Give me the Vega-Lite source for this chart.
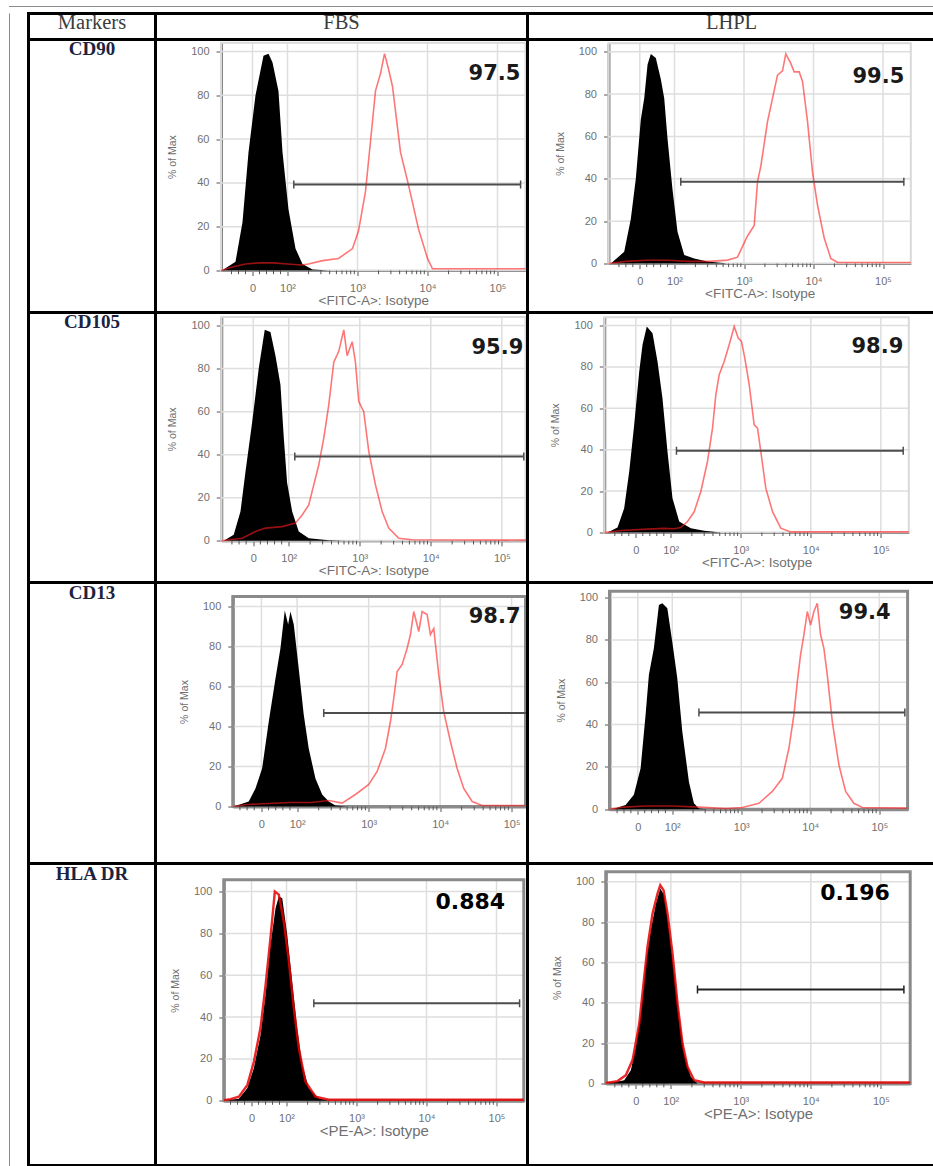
{
"$schema": "https://vega.github.io/schema/vega-lite/v6.json",
"background": "white",
"padding": {"left": 9, "top": 6, "right": 0, "bottom": 0},
"spacing": 3.5,
"config": {
 "view": {"stroke": null},
 "font": "Liberation Sans",
 "axis": {"grid": false, "labelFont": "Liberation Sans", "titleFont": "Liberation Sans", "labelColor": "#707070", "titleColor": "#707070", "titleFontWeight": "normal", "labelFontSize": 11, "tickColor": "#555555", "tickWidth": 1, "labelOverlap": false, "labelFlush": false},
 "axisX": {"domainWidth": 2, "labelPadding": 7, "titlePadding": 0, "titleFontSize": 13.5, "tickSize": 5},
 "axisY": {"domainColor": "#858585", "domainWidth": 3, "labelPadding": 7, "titlePadding": 13, "titleFontSize": 10.5}
},
"datasets": {
 "gridx": [{"log_fl":1.5},{"log_fl":2},{"log_fl":3},{"log_fl":4},{"log_fl":5}],
 "gridy": [{"pct":20},{"pct":40},{"pct":60},{"pct":80},{"pct":100}],
 "minor_ticks": [{"log_fl":1.2},{"log_fl":1.3},{"log_fl":1.4},{"log_fl":1.6},{"log_fl":1.7},{"log_fl":1.8},{"log_fl":1.9},{"log_fl":2.301},{"log_fl":2.477},{"log_fl":2.602},{"log_fl":2.699},{"log_fl":2.778},{"log_fl":2.845},{"log_fl":2.903},{"log_fl":2.954},{"log_fl":3.301},{"log_fl":3.477},{"log_fl":3.602},{"log_fl":3.699},{"log_fl":3.778},{"log_fl":3.845},{"log_fl":3.903},{"log_fl":3.954},{"log_fl":4.301},{"log_fl":4.477},{"log_fl":4.602},{"log_fl":4.699},{"log_fl":4.778},{"log_fl":4.845},{"log_fl":4.903},{"log_fl":4.954}],
 "gates": [
  {"panel":"CD90 FBS","from":2.09,"to":5.33,"level":39.3,"positive":"97.5"},
  {"panel":"CD90 LHPL","from":2.09,"to":5.3,"level":38.6,"positive":"99.5"},
  {"panel":"CD105 FBS","from":2.085,"to":5.31,"level":39.2,"positive":"95.9"},
  {"panel":"CD105 LHPL","from":2.081,"to":5.32,"level":39.5,"positive":"98.9"},
  {"panel":"CD13 FBS","from":2.372,"to":5.35,"level":46.7,"positive":"98.7"},
  {"panel":"CD13 LHPL","from":2.386,"to":5.37,"level":45.7,"positive":"99.4"},
  {"panel":"HLA DR FBS","from":2.39,"to":5.33,"level":46.6,"positive":"0.884"},
  {"panel":"HLA DR LHPL","from":2.381,"to":5.33,"level":46.6,"positive":"0.196"}
 ],
 "cd90_fbs_isotype": [{"log_fl":1.05,"pct":0},{"log_fl":1.086,"pct":0.5},{"log_fl":1.257,"pct":4},{"log_fl":1.357,"pct":22},{"log_fl":1.443,"pct":54},{"log_fl":1.543,"pct":80},{"log_fl":1.657,"pct":98},{"log_fl":1.729,"pct":99},{"log_fl":1.786,"pct":95},{"log_fl":1.871,"pct":82},{"log_fl":1.929,"pct":54},{"log_fl":2.014,"pct":28},{"log_fl":2.114,"pct":10},{"log_fl":2.214,"pct":3},{"log_fl":2.357,"pct":0.5},{"log_fl":2.6,"pct":0}],
 "cd90_fbs_marker": [{"log_fl":1.05,"pct":0},{"log_fl":1.2,"pct":1.5},{"log_fl":1.4,"pct":3},{"log_fl":1.6,"pct":3.5},{"log_fl":1.8,"pct":3.5},{"log_fl":2.0,"pct":3},{"log_fl":2.2,"pct":2.5},{"log_fl":2.3,"pct":3},{"log_fl":2.5,"pct":4.5},{"log_fl":2.729,"pct":5.5},{"log_fl":2.929,"pct":10},{"log_fl":3.014,"pct":18},{"log_fl":3.114,"pct":36},{"log_fl":3.186,"pct":59},{"log_fl":3.257,"pct":82},{"log_fl":3.329,"pct":90},{"log_fl":3.386,"pct":99},{"log_fl":3.443,"pct":92},{"log_fl":3.5,"pct":84},{"log_fl":3.614,"pct":54},{"log_fl":3.729,"pct":39},{"log_fl":3.871,"pct":19},{"log_fl":4.0,"pct":5.5},{"log_fl":4.071,"pct":0.8},{"log_fl":5.4,"pct":0.8}],
 "cd90_lhpl_isotype": [{"log_fl":1.05,"pct":0},{"log_fl":1.083,"pct":0},{"log_fl":1.276,"pct":5.5},{"log_fl":1.371,"pct":21},{"log_fl":1.443,"pct":40},{"log_fl":1.515,"pct":68},{"log_fl":1.564,"pct":78},{"log_fl":1.612,"pct":94},{"log_fl":1.659,"pct":99},{"log_fl":1.731,"pct":97},{"log_fl":1.803,"pct":87},{"log_fl":1.852,"pct":78},{"log_fl":1.899,"pct":59},{"log_fl":1.971,"pct":35},{"log_fl":2.043,"pct":15},{"log_fl":2.14,"pct":4},{"log_fl":2.283,"pct":2.4},{"log_fl":2.475,"pct":1},{"log_fl":2.763,"pct":0}],
 "cd90_lhpl_marker": [{"log_fl":1.05,"pct":0},{"log_fl":1.3,"pct":1},{"log_fl":1.6,"pct":1.5},{"log_fl":1.9,"pct":1.5},{"log_fl":2.2,"pct":1},{"log_fl":2.5,"pct":1},{"log_fl":2.763,"pct":1.6},{"log_fl":2.906,"pct":3},{"log_fl":3.05,"pct":13},{"log_fl":3.147,"pct":18},{"log_fl":3.194,"pct":38.6},{"log_fl":3.242,"pct":46},{"log_fl":3.338,"pct":67},{"log_fl":3.41,"pct":78},{"log_fl":3.482,"pct":89},{"log_fl":3.554,"pct":91},{"log_fl":3.601,"pct":99},{"log_fl":3.673,"pct":94.5},{"log_fl":3.722,"pct":90.5},{"log_fl":3.794,"pct":90.5},{"log_fl":3.842,"pct":86},{"log_fl":3.914,"pct":67},{"log_fl":3.986,"pct":43},{"log_fl":4.058,"pct":27.5},{"log_fl":4.154,"pct":12},{"log_fl":4.249,"pct":2.4},{"log_fl":4.345,"pct":0.5},{"log_fl":5.4,"pct":0.5}],
 "cd105_fbs_isotype": [{"log_fl":1.05,"pct":0},{"log_fl":1.085,"pct":0},{"log_fl":1.225,"pct":2.8},{"log_fl":1.32,"pct":13.6},{"log_fl":1.39,"pct":32},{"log_fl":1.484,"pct":55},{"log_fl":1.577,"pct":80},{"log_fl":1.662,"pct":98},{"log_fl":1.742,"pct":97},{"log_fl":1.813,"pct":86},{"log_fl":1.883,"pct":72.5},{"log_fl":1.93,"pct":48},{"log_fl":1.977,"pct":27},{"log_fl":2.048,"pct":13.6},{"log_fl":2.141,"pct":4.3},{"log_fl":2.282,"pct":1.2},{"log_fl":2.563,"pct":0.3},{"log_fl":2.8,"pct":0}],
 "cd105_fbs_marker": [{"log_fl":1.05,"pct":0},{"log_fl":1.344,"pct":1.2},{"log_fl":1.531,"pct":4.3},{"log_fl":1.672,"pct":5.9},{"log_fl":1.907,"pct":6.6},{"log_fl":2.094,"pct":8.2},{"log_fl":2.189,"pct":12},{"log_fl":2.282,"pct":16.7},{"log_fl":2.352,"pct":26},{"log_fl":2.423,"pct":35.3},{"log_fl":2.493,"pct":47.7},{"log_fl":2.563,"pct":63},{"log_fl":2.634,"pct":83},{"log_fl":2.704,"pct":88},{"log_fl":2.775,"pct":98},{"log_fl":2.822,"pct":86},{"log_fl":2.893,"pct":92.5},{"log_fl":2.939,"pct":83},{"log_fl":2.986,"pct":64.7},{"log_fl":3.056,"pct":60},{"log_fl":3.127,"pct":41.5},{"log_fl":3.221,"pct":26},{"log_fl":3.315,"pct":13.6},{"log_fl":3.408,"pct":5.9},{"log_fl":3.549,"pct":1.2},{"log_fl":3.738,"pct":0.5},{"log_fl":5.4,"pct":0.3}],
 "cd105_lhpl_isotype": [{"log_fl":1.05,"pct":0},{"log_fl":1.096,"pct":0},{"log_fl":1.239,"pct":2.4},{"log_fl":1.334,"pct":11.7},{"log_fl":1.406,"pct":29.5},{"log_fl":1.477,"pct":52},{"log_fl":1.549,"pct":77.8},{"log_fl":1.596,"pct":90.7},{"log_fl":1.657,"pct":99.5},{"log_fl":1.739,"pct":96.3},{"log_fl":1.81,"pct":82.6},{"log_fl":1.881,"pct":64.9},{"log_fl":1.953,"pct":39},{"log_fl":2.024,"pct":16.6},{"log_fl":2.12,"pct":5.3},{"log_fl":2.286,"pct":2.1},{"log_fl":2.477,"pct":0.8},{"log_fl":2.714,"pct":0}],
 "cd105_lhpl_marker": [{"log_fl":1.05,"pct":0},{"log_fl":1.3,"pct":1},{"log_fl":1.6,"pct":1.5},{"log_fl":1.9,"pct":2},{"log_fl":2.049,"pct":1.8},{"log_fl":2.143,"pct":2.4},{"log_fl":2.239,"pct":5.3},{"log_fl":2.334,"pct":10},{"log_fl":2.429,"pct":19.8},{"log_fl":2.524,"pct":34.3},{"log_fl":2.596,"pct":50.4},{"log_fl":2.643,"pct":66.5},{"log_fl":2.691,"pct":76.2},{"log_fl":2.763,"pct":82.6},{"log_fl":2.834,"pct":90.7},{"log_fl":2.906,"pct":99.5},{"log_fl":2.963,"pct":93.9},{"log_fl":3.01,"pct":92.3},{"log_fl":3.057,"pct":84.2},{"log_fl":3.12,"pct":71.4},{"log_fl":3.191,"pct":52},{"log_fl":3.239,"pct":50.4},{"log_fl":3.286,"pct":39},{"log_fl":3.357,"pct":21.4},{"log_fl":3.453,"pct":10.1},{"log_fl":3.571,"pct":2.1},{"log_fl":3.714,"pct":0.3},{"log_fl":5.4,"pct":0.3}],
 "cd13_fbs_isotype": [{"log_fl":1.1,"pct":0},{"log_fl":1.113,"pct":0},{"log_fl":1.323,"pct":2.5},{"log_fl":1.417,"pct":9},{"log_fl":1.51,"pct":19},{"log_fl":1.603,"pct":42.5},{"log_fl":1.697,"pct":64},{"log_fl":1.766,"pct":79},{"log_fl":1.827,"pct":98},{"log_fl":1.874,"pct":91},{"log_fl":1.906,"pct":97.5},{"log_fl":1.953,"pct":91},{"log_fl":2.022,"pct":69},{"log_fl":2.092,"pct":46},{"log_fl":2.162,"pct":29},{"log_fl":2.256,"pct":14},{"log_fl":2.35,"pct":6},{"log_fl":2.442,"pct":2.5},{"log_fl":2.536,"pct":0.5},{"log_fl":2.7,"pct":0}],
 "cd13_fbs_marker": [{"log_fl":1.1,"pct":0},{"log_fl":1.3,"pct":1},{"log_fl":1.6,"pct":1.5},{"log_fl":1.9,"pct":2},{"log_fl":2.2,"pct":2},{"log_fl":2.442,"pct":3},{"log_fl":2.629,"pct":1.7},{"log_fl":2.815,"pct":6},{"log_fl":3.002,"pct":11},{"log_fl":3.119,"pct":17.5},{"log_fl":3.235,"pct":29},{"log_fl":3.305,"pct":42.5},{"log_fl":3.351,"pct":54},{"log_fl":3.399,"pct":67.5},{"log_fl":3.469,"pct":71},{"log_fl":3.538,"pct":79},{"log_fl":3.585,"pct":86},{"log_fl":3.631,"pct":97.5},{"log_fl":3.701,"pct":87.5},{"log_fl":3.748,"pct":97.5},{"log_fl":3.818,"pct":96},{"log_fl":3.864,"pct":86},{"log_fl":3.911,"pct":89},{"log_fl":3.98,"pct":66},{"log_fl":4.05,"pct":47.5},{"log_fl":4.144,"pct":32.5},{"log_fl":4.238,"pct":19},{"log_fl":4.33,"pct":9},{"log_fl":4.448,"pct":2.5},{"log_fl":4.587,"pct":0.5},{"log_fl":5.4,"pct":0.5}],
 "cd13_lhpl_isotype": [{"log_fl":1.09,"pct":0},{"log_fl":1.13,"pct":0},{"log_fl":1.323,"pct":2},{"log_fl":1.443,"pct":6.8},{"log_fl":1.541,"pct":19.4},{"log_fl":1.613,"pct":44.6},{"log_fl":1.661,"pct":63.5},{"log_fl":1.733,"pct":76},{"log_fl":1.806,"pct":96.5},{"log_fl":1.855,"pct":97.3},{"log_fl":1.928,"pct":95},{"log_fl":2.0,"pct":79},{"log_fl":2.072,"pct":62},{"log_fl":2.145,"pct":36.7},{"log_fl":2.241,"pct":13},{"log_fl":2.313,"pct":2.8},{"log_fl":2.386,"pct":0.3},{"log_fl":2.5,"pct":0}],
 "cd13_lhpl_marker": [{"log_fl":1.09,"pct":0},{"log_fl":1.3,"pct":1},{"log_fl":1.6,"pct":1.5},{"log_fl":2.0,"pct":1.5},{"log_fl":2.4,"pct":1},{"log_fl":2.772,"pct":0.3},{"log_fl":3.014,"pct":0.8},{"log_fl":3.255,"pct":2.8},{"log_fl":3.449,"pct":8.4},{"log_fl":3.594,"pct":14.6},{"log_fl":3.69,"pct":28.8},{"log_fl":3.762,"pct":44.6},{"log_fl":3.812,"pct":60.3},{"log_fl":3.859,"pct":73},{"log_fl":3.907,"pct":82.4},{"log_fl":3.957,"pct":93.4},{"log_fl":4.004,"pct":87},{"log_fl":4.052,"pct":93.4},{"log_fl":4.101,"pct":97.3},{"log_fl":4.149,"pct":82.4},{"log_fl":4.197,"pct":76},{"log_fl":4.246,"pct":63.5},{"log_fl":4.319,"pct":41.4},{"log_fl":4.414,"pct":21},{"log_fl":4.512,"pct":8.4},{"log_fl":4.632,"pct":2.8},{"log_fl":4.754,"pct":0.8},{"log_fl":5.41,"pct":0.5}],
 "hla_fbs_isotype": [{"log_fl":1.104,"pct":0},{"log_fl":1.129,"pct":0},{"log_fl":1.319,"pct":1},{"log_fl":1.439,"pct":6},{"log_fl":1.533,"pct":15.6},{"log_fl":1.629,"pct":31.5},{"log_fl":1.7,"pct":50.6},{"log_fl":1.771,"pct":74.5},{"log_fl":1.843,"pct":92},{"log_fl":1.89,"pct":97.6},{"log_fl":1.939,"pct":96.8},{"log_fl":2.01,"pct":79.3},{"log_fl":2.081,"pct":57},{"log_fl":2.153,"pct":34.7},{"log_fl":2.224,"pct":17.2},{"log_fl":2.319,"pct":6},{"log_fl":2.461,"pct":1.2},{"log_fl":2.604,"pct":0}],
 "hla_fbs_marker": [{"log_fl":1.104,"pct":0.3},{"log_fl":1.2,"pct":0.8},{"log_fl":1.319,"pct":2},{"log_fl":1.439,"pct":7.5},{"log_fl":1.533,"pct":18.5},{"log_fl":1.629,"pct":35},{"log_fl":1.7,"pct":55},{"log_fl":1.771,"pct":78},{"log_fl":1.833,"pct":100},{"log_fl":1.89,"pct":98.5},{"log_fl":1.961,"pct":85.7},{"log_fl":2.033,"pct":66.6},{"log_fl":2.104,"pct":44.2},{"log_fl":2.176,"pct":25},{"log_fl":2.271,"pct":9.2},{"log_fl":2.414,"pct":2},{"log_fl":2.604,"pct":0.5},{"log_fl":5.39,"pct":0.5}],
 "hla_lhpl_isotype": [{"log_fl":1.071,"pct":0},{"log_fl":1.096,"pct":0},{"log_fl":1.334,"pct":1.6},{"log_fl":1.429,"pct":6.6},{"log_fl":1.5,"pct":18.2},{"log_fl":1.571,"pct":34.7},{"log_fl":1.643,"pct":59.5},{"log_fl":1.714,"pct":76},{"log_fl":1.786,"pct":89},{"log_fl":1.849,"pct":96.7},{"log_fl":1.906,"pct":93.4},{"log_fl":1.977,"pct":76},{"log_fl":2.049,"pct":54.5},{"log_fl":2.12,"pct":33},{"log_fl":2.191,"pct":14.9},{"log_fl":2.286,"pct":3.3},{"log_fl":2.381,"pct":0},{"log_fl":2.5,"pct":0}],
 "hla_lhpl_marker": [{"log_fl":1.071,"pct":0.3},{"log_fl":1.239,"pct":1.2},{"log_fl":1.357,"pct":4.1},{"log_fl":1.453,"pct":11.6},{"log_fl":1.549,"pct":29.7},{"log_fl":1.62,"pct":52.9},{"log_fl":1.667,"pct":67.8},{"log_fl":1.739,"pct":84.3},{"log_fl":1.81,"pct":94.2},{"log_fl":1.849,"pct":98.3},{"log_fl":1.896,"pct":95.8},{"log_fl":1.953,"pct":84.3},{"log_fl":2.024,"pct":64.5},{"log_fl":2.096,"pct":39.7},{"log_fl":2.167,"pct":19.8},{"log_fl":2.239,"pct":8.3},{"log_fl":2.334,"pct":1.6},{"log_fl":2.477,"pct":0.5},{"log_fl":5.42,"pct":0.5}]
},
"vconcat": [
 {"width": 924, "height": 1, "view": {"fill": "#8c8c8c", "stroke": null}, "data": {"values": []}, "mark": "point"},
 {"spacing": 16.5, "hconcat": [
  {"width": 1, "height": 1154, "view": {"fill": "#8c8c8c", "stroke": null}, "data": {"values": []}, "mark": "point"},
  {"columns": 3, "spacing": 0, "bounds": "flush", "concat": [
   {"width":127,"height":26,"view":{"stroke":"#000","strokeWidth":3},"data":{"values":[{"heading":"Markers"}]},"mark":{"type":"text","font":"Liberation Serif","fontSize":20.5,"color":"#3c3c3c"},"encoding":{"text":{"field":"heading"},"y":{"datum":0.64,"scale":{"domain":[0,1]},"axis":null}}},
   {"width":372,"height":26,"view":{"stroke":"#000","strokeWidth":3},"data":{"values":[{"heading":"FBS"}]},"mark":{"type":"text","font":"Liberation Serif","fontSize":20.5,"color":"#3c3c3c"},"encoding":{"text":{"field":"heading"},"y":{"datum":0.64,"scale":{"domain":[0,1]},"axis":null}}},
   {"width":408,"height":26,"view":{"stroke":"#000","strokeWidth":3},"data":{"values":[{"heading":"LHPL"}]},"mark":{"type":"text","font":"Liberation Serif","fontSize":20.5,"color":"#3c3c3c"},"encoding":{"text":{"field":"heading"},"y":{"datum":0.64,"scale":{"domain":[0,1]},"axis":null}}},

   {"width":127,"height":273,"view":{"stroke":"#000","strokeWidth":3},"data":{"values":[{"marker":"CD90"}]},"mark":{"type":"text","font":"Liberation Serif","fontSize":19,"fontWeight":"bold","color":"#1b2340"},"encoding":{"text":{"field":"marker"},"y":{"datum":0.964,"scale":{"domain":[0,1]},"axis":null}}},
   {"width":372,"height":273,"view":{"stroke":"#000","strokeWidth":3},"layer":[
    {"data":{"name":"gridx"},"mark":{"type":"rule","color":"#dedede","strokeWidth":1.5},"encoding":{"x":{"field":"log_fl","type":"quantitative","scale":{"domain":[1.05,5.4],"range":[65.5,370],"nice":false,"zero":false}},"y":{"datum":0,"scale":{"domain":[0,104],"range":[231,3.2],"nice":false}},"y2":{"datum":104}}},
    {"data":{"name":"gridy"},"mark":{"type":"rule","color":"#dedede","strokeWidth":1.5},"encoding":{"y":{"field":"pct","type":"quantitative","scale":{"domain":[0,104],"range":[231,3.2],"nice":false}},"x":{"datum":1.05,"scale":{"domain":[1.05,5.4],"range":[65.5,370],"nice":false,"zero":false}},"x2":{"datum":5.4}}},
    {"data":{"values":[{}]},"mark":{"type":"rect","filled":false,"color":"#d9d9d9","strokeWidth":2},"encoding":{"x":{"datum":1.05,"scale":{"domain":[1.05,5.4],"range":[65.5,370],"nice":false,"zero":false}},"x2":{"datum":5.4},"y":{"datum":0,"scale":{"domain":[0,104],"range":[231,3.2],"nice":false}},"y2":{"datum":104}}},
    {"data":{"name":"minor_ticks"},"mark":{"type":"rule","color":"#555555","strokeWidth":1},"encoding":{"x":{"field":"log_fl","type":"quantitative","scale":{"domain":[1.05,5.4],"range":[65.5,370],"nice":false,"zero":false}},"y":{"datum":0,"scale":{"domain":[0,104],"range":[231,3.2],"nice":false}},"y2":{"datum":-1.7}}},
    {"data":{"name":"cd90_fbs_isotype"},"mark":{"type":"area","color":"#000000","clip":true},"encoding":{"x":{"field":"log_fl","type":"quantitative","scale":{"domain":[1.05,5.4],"range":[65.5,370],"nice":false,"zero":false},"axis":{"orient":"bottom","offset":-42,"title":"<FITC-A>: Isotype","labelOverlap":false,"domainColor":"#4d4d4d","values":[1.5,2,3,4,5],"labelExpr":"datum.value == 1.5 ? '0' : datum.value == 2 ? '10²' : datum.value == 3 ? '10³' : datum.value == 4 ? '10⁴' : '10⁵'"}},"y":{"field":"pct","type":"quantitative","scale":{"domain":[0,104],"range":[231,3.2],"nice":false},"axis":{"orient":"left","offset":-65.5,"title":"% of Max","labelOverlap":false,"values":[0,20,40,60,80,100]}}}},
    {"data":{"name":"cd90_fbs_marker"},"mark":{"type":"line","color":"#ff1a1a","opacity":0.6,"strokeWidth":1.6,"clip":true},"encoding":{"x":{"field":"log_fl","type":"quantitative","scale":{"domain":[1.05,5.4],"range":[65.5,370],"nice":false,"zero":false}},"y":{"field":"pct","type":"quantitative","scale":{"domain":[0,104],"range":[231,3.2],"nice":false}}}},
    {"data":{"name":"gates"},"transform":[{"filter":"datum.panel == 'CD90 FBS'"}],"layer":[
     {"mark":{"type":"rule","color":"#4d4d4d","strokeWidth":2,"clip":true},"encoding":{"x":{"field":"from","type":"quantitative","scale":{"domain":[1.05,5.4],"range":[65.5,370],"nice":false,"zero":false}},"x2":{"field":"to"},"y":{"field":"level","type":"quantitative","scale":{"domain":[0,104],"range":[231,3.2],"nice":false}}}},
     {"mark":{"type":"tick","orient":"vertical","color":"#4d4d4d","opacity":1,"size":8,"thickness":1.5,"clip":true},"encoding":{"x":{"field":"from","type":"quantitative","scale":{"domain":[1.05,5.4],"range":[65.5,370],"nice":false,"zero":false}},"y":{"field":"level","type":"quantitative","scale":{"domain":[0,104],"range":[231,3.2],"nice":false}}}},
     {"mark":{"type":"tick","orient":"vertical","color":"#4d4d4d","opacity":1,"size":8,"thickness":1.5,"clip":true},"encoding":{"x":{"field":"to","type":"quantitative","scale":{"domain":[1.05,5.4],"range":[65.5,370],"nice":false,"zero":false}},"y":{"field":"level","type":"quantitative","scale":{"domain":[0,104],"range":[231,3.2],"nice":false}}}},
     {"mark":{"type":"text","align":"left","baseline":"middle","font":"DejaVu Sans","fontWeight":"bold","fontSize":21,"color":"#1a1a1a","clip":true},"encoding":{"text":{"field":"positive"},"x":{"datum":4.586,"scale":{"domain":[1.05,5.4],"range":[65.5,370],"nice":false,"zero":false}},"y":{"datum":89.5,"scale":{"domain":[0,104],"range":[231,3.2],"nice":false}}}}
    ]}
   ]},
   {"width":408,"height":273,"view":{"stroke":"#000","strokeWidth":3},"layer":[
    {"data":{"name":"gridx"},"mark":{"type":"rule","color":"#dedede","strokeWidth":1.5},"encoding":{"x":{"field":"log_fl","type":"quantitative","scale":{"domain":[1.05,5.4],"range":[81,383.3],"nice":false,"zero":false}},"y":{"datum":0,"scale":{"domain":[0,104],"range":[224,3.8],"nice":false}},"y2":{"datum":104}}},
    {"data":{"name":"gridy"},"mark":{"type":"rule","color":"#dedede","strokeWidth":1.5},"encoding":{"y":{"field":"pct","type":"quantitative","scale":{"domain":[0,104],"range":[224,3.8],"nice":false}},"x":{"datum":1.05,"scale":{"domain":[1.05,5.4],"range":[81,383.3],"nice":false,"zero":false}},"x2":{"datum":5.4}}},
    {"data":{"values":[{}]},"mark":{"type":"rect","filled":false,"color":"#d9d9d9","strokeWidth":2},"encoding":{"x":{"datum":1.05,"scale":{"domain":[1.05,5.4],"range":[81,383.3],"nice":false,"zero":false}},"x2":{"datum":5.4},"y":{"datum":0,"scale":{"domain":[0,104],"range":[224,3.8],"nice":false}},"y2":{"datum":104}}},
    {"data":{"name":"minor_ticks"},"mark":{"type":"rule","color":"#555555","strokeWidth":1},"encoding":{"x":{"field":"log_fl","type":"quantitative","scale":{"domain":[1.05,5.4],"range":[81,383.3],"nice":false,"zero":false}},"y":{"datum":0,"scale":{"domain":[0,104],"range":[224,3.8],"nice":false}},"y2":{"datum":-1.7}}},
    {"data":{"name":"cd90_lhpl_isotype"},"mark":{"type":"area","color":"#000000","clip":true},"encoding":{"x":{"field":"log_fl","type":"quantitative","scale":{"domain":[1.05,5.4],"range":[81,383.3],"nice":false,"zero":false},"axis":{"orient":"bottom","offset":-49,"title":"<FITC-A>: Isotype","labelOverlap":false,"domainColor":"#4d4d4d","values":[1.5,2,3,4,5],"labelExpr":"datum.value == 1.5 ? '0' : datum.value == 2 ? '10²' : datum.value == 3 ? '10³' : datum.value == 4 ? '10⁴' : '10⁵'"}},"y":{"field":"pct","type":"quantitative","scale":{"domain":[0,104],"range":[224,3.8],"nice":false},"axis":{"orient":"left","offset":-81,"title":"% of Max","labelOverlap":false,"values":[0,20,40,60,80,100]}}}},
    {"data":{"name":"cd90_lhpl_marker"},"mark":{"type":"line","color":"#ff1a1a","opacity":0.6,"strokeWidth":1.6,"clip":true},"encoding":{"x":{"field":"log_fl","type":"quantitative","scale":{"domain":[1.05,5.4],"range":[81,383.3],"nice":false,"zero":false}},"y":{"field":"pct","type":"quantitative","scale":{"domain":[0,104],"range":[224,3.8],"nice":false}}}},
    {"data":{"name":"gates"},"transform":[{"filter":"datum.panel == 'CD90 LHPL'"}],"layer":[
     {"mark":{"type":"rule","color":"#4d4d4d","strokeWidth":2,"clip":true},"encoding":{"x":{"field":"from","type":"quantitative","scale":{"domain":[1.05,5.4],"range":[81,383.3],"nice":false,"zero":false}},"x2":{"field":"to"},"y":{"field":"level","type":"quantitative","scale":{"domain":[0,104],"range":[224,3.8],"nice":false}}}},
     {"mark":{"type":"tick","orient":"vertical","color":"#4d4d4d","opacity":1,"size":8,"thickness":1.5,"clip":true},"encoding":{"x":{"field":"from","type":"quantitative","scale":{"domain":[1.05,5.4],"range":[81,383.3],"nice":false,"zero":false}},"y":{"field":"level","type":"quantitative","scale":{"domain":[0,104],"range":[224,3.8],"nice":false}}}},
     {"mark":{"type":"tick","orient":"vertical","color":"#4d4d4d","opacity":1,"size":8,"thickness":1.5,"clip":true},"encoding":{"x":{"field":"to","type":"quantitative","scale":{"domain":[1.05,5.4],"range":[81,383.3],"nice":false,"zero":false}},"y":{"field":"level","type":"quantitative","scale":{"domain":[0,104],"range":[224,3.8],"nice":false}}}},
     {"mark":{"type":"text","align":"left","baseline":"middle","font":"DejaVu Sans","fontWeight":"bold","fontSize":21,"color":"#1a1a1a","clip":true},"encoding":{"text":{"field":"positive"},"x":{"datum":4.561,"scale":{"domain":[1.05,5.4],"range":[81,383.3],"nice":false,"zero":false}},"y":{"datum":88.2,"scale":{"domain":[0,104],"range":[224,3.8],"nice":false}}}}
    ]}
   ]},

   {"width":127,"height":270,"view":{"stroke":"#000","strokeWidth":3},"data":{"values":[{"marker":"CD105"}]},"mark":{"type":"text","font":"Liberation Serif","fontSize":19,"fontWeight":"bold","color":"#1b2340"},"encoding":{"text":{"field":"marker"},"y":{"datum":0.964,"scale":{"domain":[0,1]},"axis":null}}},
   {"width":372,"height":270,"view":{"stroke":"#000","strokeWidth":3},"layer":[
    {"data":{"name":"gridx"},"mark":{"type":"rule","color":"#dedede","strokeWidth":1.5},"encoding":{"x":{"field":"log_fl","type":"quantitative","scale":{"domain":[1.05,5.334],"range":[65.8,370],"nice":false,"zero":false}},"y":{"datum":0,"scale":{"domain":[0,104],"range":[228.3,4.4],"nice":false}},"y2":{"datum":104}}},
    {"data":{"name":"gridy"},"mark":{"type":"rule","color":"#dedede","strokeWidth":1.5},"encoding":{"y":{"field":"pct","type":"quantitative","scale":{"domain":[0,104],"range":[228.3,4.4],"nice":false}},"x":{"datum":1.05,"scale":{"domain":[1.05,5.334],"range":[65.8,370],"nice":false,"zero":false}},"x2":{"datum":5.334}}},
    {"data":{"values":[{}]},"mark":{"type":"rect","filled":false,"color":"#d9d9d9","strokeWidth":2},"encoding":{"x":{"datum":1.05,"scale":{"domain":[1.05,5.334],"range":[65.8,370],"nice":false,"zero":false}},"x2":{"datum":5.334},"y":{"datum":0,"scale":{"domain":[0,104],"range":[228.3,4.4],"nice":false}},"y2":{"datum":104}}},
    {"data":{"name":"minor_ticks"},"mark":{"type":"rule","color":"#555555","strokeWidth":1},"encoding":{"x":{"field":"log_fl","type":"quantitative","scale":{"domain":[1.05,5.334],"range":[65.8,370],"nice":false,"zero":false}},"y":{"datum":0,"scale":{"domain":[0,104],"range":[228.3,4.4],"nice":false}},"y2":{"datum":-1.7}}},
    {"data":{"name":"cd105_fbs_isotype"},"mark":{"type":"area","color":"#000000","clip":true},"encoding":{"x":{"field":"log_fl","type":"quantitative","scale":{"domain":[1.05,5.334],"range":[65.8,370],"nice":false,"zero":false},"axis":{"orient":"bottom","offset":-41.7,"title":"<FITC-A>: Isotype","labelOverlap":false,"domainColor":"#4d4d4d","values":[1.5,2,3,4,5],"labelExpr":"datum.value == 1.5 ? '0' : datum.value == 2 ? '10²' : datum.value == 3 ? '10³' : datum.value == 4 ? '10⁴' : '10⁵'"}},"y":{"field":"pct","type":"quantitative","scale":{"domain":[0,104],"range":[228.3,4.4],"nice":false},"axis":{"orient":"left","offset":-65.8,"title":"% of Max","labelOverlap":false,"values":[0,20,40,60,80,100]}}}},
    {"data":{"name":"cd105_fbs_marker"},"mark":{"type":"line","color":"#ff1a1a","opacity":0.6,"strokeWidth":1.6,"clip":true},"encoding":{"x":{"field":"log_fl","type":"quantitative","scale":{"domain":[1.05,5.334],"range":[65.8,370],"nice":false,"zero":false}},"y":{"field":"pct","type":"quantitative","scale":{"domain":[0,104],"range":[228.3,4.4],"nice":false}}}},
    {"data":{"name":"gates"},"transform":[{"filter":"datum.panel == 'CD105 FBS'"}],"layer":[
     {"mark":{"type":"rule","color":"#4d4d4d","strokeWidth":2,"clip":true},"encoding":{"x":{"field":"from","type":"quantitative","scale":{"domain":[1.05,5.334],"range":[65.8,370],"nice":false,"zero":false}},"x2":{"field":"to"},"y":{"field":"level","type":"quantitative","scale":{"domain":[0,104],"range":[228.3,4.4],"nice":false}}}},
     {"mark":{"type":"tick","orient":"vertical","color":"#4d4d4d","opacity":1,"size":8,"thickness":1.5,"clip":true},"encoding":{"x":{"field":"from","type":"quantitative","scale":{"domain":[1.05,5.334],"range":[65.8,370],"nice":false,"zero":false}},"y":{"field":"level","type":"quantitative","scale":{"domain":[0,104],"range":[228.3,4.4],"nice":false}}}},
     {"mark":{"type":"tick","orient":"vertical","color":"#4d4d4d","opacity":1,"size":8,"thickness":1.5,"clip":true},"encoding":{"x":{"field":"to","type":"quantitative","scale":{"domain":[1.05,5.334],"range":[65.8,370],"nice":false,"zero":false}},"y":{"field":"level","type":"quantitative","scale":{"domain":[0,104],"range":[228.3,4.4],"nice":false}}}},
     {"mark":{"type":"text","align":"left","baseline":"middle","font":"DejaVu Sans","fontWeight":"bold","fontSize":21,"color":"#1a1a1a","clip":true},"encoding":{"text":{"field":"positive"},"x":{"datum":4.573,"scale":{"domain":[1.05,5.334],"range":[65.8,370],"nice":false,"zero":false}},"y":{"datum":89.5,"scale":{"domain":[0,104],"range":[228.3,4.4],"nice":false}}}}
    ]}
   ]},
   {"width":408,"height":270,"view":{"stroke":"#000","strokeWidth":3},"layer":[
    {"data":{"name":"gridx"},"mark":{"type":"rule","color":"#dedede","strokeWidth":1.5},"encoding":{"x":{"field":"log_fl","type":"quantitative","scale":{"domain":[1.05,5.4],"range":[76.8,381.3],"nice":false,"zero":false}},"y":{"datum":0,"scale":{"domain":[0,104],"range":[220,4.7],"nice":false}},"y2":{"datum":104}}},
    {"data":{"name":"gridy"},"mark":{"type":"rule","color":"#dedede","strokeWidth":1.5},"encoding":{"y":{"field":"pct","type":"quantitative","scale":{"domain":[0,104],"range":[220,4.7],"nice":false}},"x":{"datum":1.05,"scale":{"domain":[1.05,5.4],"range":[76.8,381.3],"nice":false,"zero":false}},"x2":{"datum":5.4}}},
    {"data":{"values":[{}]},"mark":{"type":"rect","filled":false,"color":"#d9d9d9","strokeWidth":2},"encoding":{"x":{"datum":1.05,"scale":{"domain":[1.05,5.4],"range":[76.8,381.3],"nice":false,"zero":false}},"x2":{"datum":5.4},"y":{"datum":0,"scale":{"domain":[0,104],"range":[220,4.7],"nice":false}},"y2":{"datum":104}}},
    {"data":{"name":"minor_ticks"},"mark":{"type":"rule","color":"#555555","strokeWidth":1},"encoding":{"x":{"field":"log_fl","type":"quantitative","scale":{"domain":[1.05,5.4],"range":[76.8,381.3],"nice":false,"zero":false}},"y":{"datum":0,"scale":{"domain":[0,104],"range":[220,4.7],"nice":false}},"y2":{"datum":-1.7}}},
    {"data":{"name":"cd105_lhpl_isotype"},"mark":{"type":"area","color":"#000000","clip":true},"encoding":{"x":{"field":"log_fl","type":"quantitative","scale":{"domain":[1.05,5.4],"range":[76.8,381.3],"nice":false,"zero":false},"axis":{"orient":"bottom","offset":-50,"title":"<FITC-A>: Isotype","labelOverlap":false,"domainColor":"#4d4d4d","values":[1.5,2,3,4,5],"labelExpr":"datum.value == 1.5 ? '0' : datum.value == 2 ? '10²' : datum.value == 3 ? '10³' : datum.value == 4 ? '10⁴' : '10⁵'"}},"y":{"field":"pct","type":"quantitative","scale":{"domain":[0,104],"range":[220,4.7],"nice":false},"axis":{"orient":"left","offset":-76.8,"title":"% of Max","labelOverlap":false,"values":[0,20,40,60,80,100]}}}},
    {"data":{"name":"cd105_lhpl_marker"},"mark":{"type":"line","color":"#ff1a1a","opacity":0.6,"strokeWidth":1.6,"clip":true},"encoding":{"x":{"field":"log_fl","type":"quantitative","scale":{"domain":[1.05,5.4],"range":[76.8,381.3],"nice":false,"zero":false}},"y":{"field":"pct","type":"quantitative","scale":{"domain":[0,104],"range":[220,4.7],"nice":false}}}},
    {"data":{"name":"gates"},"transform":[{"filter":"datum.panel == 'CD105 LHPL'"}],"layer":[
     {"mark":{"type":"rule","color":"#4d4d4d","strokeWidth":2,"clip":true},"encoding":{"x":{"field":"from","type":"quantitative","scale":{"domain":[1.05,5.4],"range":[76.8,381.3],"nice":false,"zero":false}},"x2":{"field":"to"},"y":{"field":"level","type":"quantitative","scale":{"domain":[0,104],"range":[220,4.7],"nice":false}}}},
     {"mark":{"type":"tick","orient":"vertical","color":"#4d4d4d","opacity":1,"size":8,"thickness":1.5,"clip":true},"encoding":{"x":{"field":"from","type":"quantitative","scale":{"domain":[1.05,5.4],"range":[76.8,381.3],"nice":false,"zero":false}},"y":{"field":"level","type":"quantitative","scale":{"domain":[0,104],"range":[220,4.7],"nice":false}}}},
     {"mark":{"type":"tick","orient":"vertical","color":"#4d4d4d","opacity":1,"size":8,"thickness":1.5,"clip":true},"encoding":{"x":{"field":"to","type":"quantitative","scale":{"domain":[1.05,5.4],"range":[76.8,381.3],"nice":false,"zero":false}},"y":{"field":"level","type":"quantitative","scale":{"domain":[0,104],"range":[220,4.7],"nice":false}}}},
     {"mark":{"type":"text","align":"left","baseline":"middle","font":"DejaVu Sans","fontWeight":"bold","fontSize":21,"color":"#1a1a1a","clip":true},"encoding":{"text":{"field":"positive"},"x":{"datum":4.581,"scale":{"domain":[1.05,5.4],"range":[76.8,381.3],"nice":false,"zero":false}},"y":{"datum":89.4,"scale":{"domain":[0,104],"range":[220,4.7],"nice":false}}}}
    ]}
   ]},

   {"width":127,"height":281,"view":{"stroke":"#000","strokeWidth":3},"data":{"values":[{"marker":"CD13"}]},"mark":{"type":"text","font":"Liberation Serif","fontSize":19,"fontWeight":"bold","color":"#1b2340"},"encoding":{"text":{"field":"marker"},"y":{"datum":0.964,"scale":{"domain":[0,1]},"axis":null}}},
   {"width":372,"height":281,"view":{"stroke":"#000","strokeWidth":3},"layer":[
    {"data":{"name":"gridx"},"mark":{"type":"rule","color":"#dedede","strokeWidth":1.5},"encoding":{"x":{"field":"log_fl","type":"quantitative","scale":{"domain":[1.1,5.194],"range":[77.3,370],"nice":false,"zero":false}},"y":{"datum":0,"scale":{"domain":[0,105],"range":[224,14],"nice":false}},"y2":{"datum":105}}},
    {"data":{"name":"gridy"},"mark":{"type":"rule","color":"#dedede","strokeWidth":1.5},"encoding":{"y":{"field":"pct","type":"quantitative","scale":{"domain":[0,105],"range":[224,14],"nice":false}},"x":{"datum":1.1,"scale":{"domain":[1.1,5.194],"range":[77.3,370],"nice":false,"zero":false}},"x2":{"datum":5.194}}},
    {"data":{"values":[{}]},"mark":{"type":"rect","filled":false,"color":"#8a8a8a","strokeWidth":3},"encoding":{"x":{"datum":1.1,"scale":{"domain":[1.1,5.194],"range":[77.3,370],"nice":false,"zero":false}},"x2":{"datum":5.194},"y":{"datum":0,"scale":{"domain":[0,105],"range":[224,14],"nice":false}},"y2":{"datum":105}}},
    {"data":{"name":"minor_ticks"},"mark":{"type":"rule","color":"#555555","strokeWidth":1},"encoding":{"x":{"field":"log_fl","type":"quantitative","scale":{"domain":[1.1,5.194],"range":[77.3,370],"nice":false,"zero":false}},"y":{"datum":0,"scale":{"domain":[0,105],"range":[224,14],"nice":false}},"y2":{"datum":-1.9}}},
    {"data":{"name":"cd13_fbs_isotype"},"mark":{"type":"area","color":"#000000","clip":true},"encoding":{"x":{"field":"log_fl","type":"quantitative","scale":{"domain":[1.1,5.194],"range":[77.3,370],"nice":false,"zero":false},"axis":{"orient":"bottom","offset":-57,"title":null,"labelOverlap":false,"domainColor":"#8a8a8a","domainWidth":3,"values":[1.5,2,3,4,5],"labelExpr":"datum.value == 1.5 ? '0' : datum.value == 2 ? '10²' : datum.value == 3 ? '10³' : datum.value == 4 ? '10⁴' : '10⁵'"}},"y":{"field":"pct","type":"quantitative","scale":{"domain":[0,105],"range":[224,14],"nice":false},"axis":{"orient":"left","offset":-77.3,"title":"% of Max","labelOverlap":false,"values":[0,5,10,15,20,25,30,35,40,45,50,55,60,65,70,75,80,85,90,95,100],"labelExpr":"datum.value % 20 == 0 ? datum.label : ''","tickSize":{"condition":{"test":"datum.value % 20 == 0","value":5},"value":3}}}}},
    {"data":{"name":"cd13_fbs_marker"},"mark":{"type":"line","color":"#ff1a1a","opacity":0.6,"strokeWidth":1.6,"clip":true},"encoding":{"x":{"field":"log_fl","type":"quantitative","scale":{"domain":[1.1,5.194],"range":[77.3,370],"nice":false,"zero":false}},"y":{"field":"pct","type":"quantitative","scale":{"domain":[0,105],"range":[224,14],"nice":false}}}},
    {"data":{"name":"gates"},"transform":[{"filter":"datum.panel == 'CD13 FBS'"}],"layer":[
     {"mark":{"type":"rule","color":"#4d4d4d","strokeWidth":2,"clip":true},"encoding":{"x":{"field":"from","type":"quantitative","scale":{"domain":[1.1,5.194],"range":[77.3,370],"nice":false,"zero":false}},"x2":{"field":"to"},"y":{"field":"level","type":"quantitative","scale":{"domain":[0,105],"range":[224,14],"nice":false}}}},
     {"mark":{"type":"tick","orient":"vertical","color":"#4d4d4d","opacity":1,"size":8,"thickness":1.5,"clip":true},"encoding":{"x":{"field":"from","type":"quantitative","scale":{"domain":[1.1,5.194],"range":[77.3,370],"nice":false,"zero":false}},"y":{"field":"level","type":"quantitative","scale":{"domain":[0,105],"range":[224,14],"nice":false}}}},
     {"mark":{"type":"tick","orient":"vertical","color":"#4d4d4d","opacity":1,"size":8,"thickness":1.5,"clip":true},"encoding":{"x":{"field":"to","type":"quantitative","scale":{"domain":[1.1,5.194],"range":[77.3,370],"nice":false,"zero":false}},"y":{"field":"level","type":"quantitative","scale":{"domain":[0,105],"range":[224,14],"nice":false}}}},
     {"mark":{"type":"text","align":"left","baseline":"middle","font":"DejaVu Sans","fontWeight":"bold","fontSize":21,"color":"#1a1a1a","clip":true},"encoding":{"text":{"field":"positive"},"x":{"datum":4.4,"scale":{"domain":[1.1,5.194],"range":[77.3,370],"nice":false,"zero":false}},"y":{"datum":95,"scale":{"domain":[0,105],"range":[224,14],"nice":false}}}}
    ]}
   ]},
   {"width":408,"height":281,"view":{"stroke":"#000","strokeWidth":3},"layer":[
    {"data":{"name":"gridx"},"mark":{"type":"rule","color":"#dedede","strokeWidth":1.5},"encoding":{"x":{"field":"log_fl","type":"quantitative","scale":{"domain":[1.09,5.41],"range":[82,380.1],"nice":false,"zero":false}},"y":{"datum":0,"scale":{"domain":[0,103],"range":[226.7,8.7],"nice":false}},"y2":{"datum":103}}},
    {"data":{"name":"gridy"},"mark":{"type":"rule","color":"#dedede","strokeWidth":1.5},"encoding":{"y":{"field":"pct","type":"quantitative","scale":{"domain":[0,103],"range":[226.7,8.7],"nice":false}},"x":{"datum":1.09,"scale":{"domain":[1.09,5.41],"range":[82,380.1],"nice":false,"zero":false}},"x2":{"datum":5.41}}},
    {"data":{"values":[{}]},"mark":{"type":"rect","filled":false,"color":"#8a8a8a","strokeWidth":3},"encoding":{"x":{"datum":1.09,"scale":{"domain":[1.09,5.41],"range":[82,380.1],"nice":false,"zero":false}},"x2":{"datum":5.41},"y":{"datum":0,"scale":{"domain":[0,103],"range":[226.7,8.7],"nice":false}},"y2":{"datum":103}}},
    {"data":{"name":"minor_ticks"},"mark":{"type":"rule","color":"#555555","strokeWidth":1},"encoding":{"x":{"field":"log_fl","type":"quantitative","scale":{"domain":[1.09,5.41],"range":[82,380.1],"nice":false,"zero":false}},"y":{"datum":0,"scale":{"domain":[0,103],"range":[226.7,8.7],"nice":false}},"y2":{"datum":-1.9}}},
    {"data":{"name":"cd13_lhpl_isotype"},"mark":{"type":"area","color":"#000000","clip":true},"encoding":{"x":{"field":"log_fl","type":"quantitative","scale":{"domain":[1.09,5.41],"range":[82,380.1],"nice":false,"zero":false},"axis":{"orient":"bottom","offset":-54.3,"title":null,"labelOverlap":false,"domainColor":"#8a8a8a","domainWidth":3,"values":[1.5,2,3,4,5],"labelExpr":"datum.value == 1.5 ? '0' : datum.value == 2 ? '10²' : datum.value == 3 ? '10³' : datum.value == 4 ? '10⁴' : '10⁵'"}},"y":{"field":"pct","type":"quantitative","scale":{"domain":[0,103],"range":[226.7,8.7],"nice":false},"axis":{"orient":"left","offset":-82,"title":"% of Max","labelOverlap":false,"values":[0,5,10,15,20,25,30,35,40,45,50,55,60,65,70,75,80,85,90,95,100],"labelExpr":"datum.value % 20 == 0 ? datum.label : ''","tickSize":{"condition":{"test":"datum.value % 20 == 0","value":5},"value":3}}}}},
    {"data":{"name":"cd13_lhpl_marker"},"mark":{"type":"line","color":"#ff1a1a","opacity":0.6,"strokeWidth":1.6,"clip":true},"encoding":{"x":{"field":"log_fl","type":"quantitative","scale":{"domain":[1.09,5.41],"range":[82,380.1],"nice":false,"zero":false}},"y":{"field":"pct","type":"quantitative","scale":{"domain":[0,103],"range":[226.7,8.7],"nice":false}}}},
    {"data":{"name":"gates"},"transform":[{"filter":"datum.panel == 'CD13 LHPL'"}],"layer":[
     {"mark":{"type":"rule","color":"#4d4d4d","strokeWidth":2,"clip":true},"encoding":{"x":{"field":"from","type":"quantitative","scale":{"domain":[1.09,5.41],"range":[82,380.1],"nice":false,"zero":false}},"x2":{"field":"to"},"y":{"field":"level","type":"quantitative","scale":{"domain":[0,103],"range":[226.7,8.7],"nice":false}}}},
     {"mark":{"type":"tick","orient":"vertical","color":"#4d4d4d","opacity":1,"size":8,"thickness":1.5,"clip":true},"encoding":{"x":{"field":"from","type":"quantitative","scale":{"domain":[1.09,5.41],"range":[82,380.1],"nice":false,"zero":false}},"y":{"field":"level","type":"quantitative","scale":{"domain":[0,103],"range":[226.7,8.7],"nice":false}}}},
     {"mark":{"type":"tick","orient":"vertical","color":"#4d4d4d","opacity":1,"size":8,"thickness":1.5,"clip":true},"encoding":{"x":{"field":"to","type":"quantitative","scale":{"domain":[1.09,5.41],"range":[82,380.1],"nice":false,"zero":false}},"y":{"field":"level","type":"quantitative","scale":{"domain":[0,103],"range":[226.7,8.7],"nice":false}}}},
     {"mark":{"type":"text","align":"left","baseline":"middle","font":"DejaVu Sans","fontWeight":"bold","fontSize":21,"color":"#1a1a1a","clip":true},"encoding":{"text":{"field":"positive"},"x":{"datum":4.414,"scale":{"domain":[1.09,5.41],"range":[82,380.1],"nice":false,"zero":false}},"y":{"datum":92.6,"scale":{"domain":[0,103],"range":[226.7,8.7],"nice":false}}}}
    ]}
   ]},

   {"width":127,"height":302,"view":{"stroke":"#000","strokeWidth":3},"data":{"values":[{"marker":"HLA DR"}]},"mark":{"type":"text","font":"Liberation Serif","fontSize":19,"fontWeight":"bold","color":"#1b2340"},"encoding":{"text":{"field":"marker"},"y":{"datum":0.964,"scale":{"domain":[0,1]},"axis":null}}},
   {"width":372,"height":302,"view":{"stroke":"#000","strokeWidth":3},"layer":[
    {"data":{"name":"gridx"},"mark":{"type":"rule","color":"#dedede","strokeWidth":1.5},"encoding":{"x":{"field":"log_fl","type":"quantitative","scale":{"domain":[1.104,5.39],"range":[68.3,368.3],"nice":false,"zero":false}},"y":{"datum":0,"scale":{"domain":[0,105.6],"range":[237.3,16.3],"nice":false}},"y2":{"datum":105.6}}},
    {"data":{"name":"gridy"},"mark":{"type":"rule","color":"#dedede","strokeWidth":1.5},"encoding":{"y":{"field":"pct","type":"quantitative","scale":{"domain":[0,105.6],"range":[237.3,16.3],"nice":false}},"x":{"datum":1.104,"scale":{"domain":[1.104,5.39],"range":[68.3,368.3],"nice":false,"zero":false}},"x2":{"datum":5.39}}},
    {"data":{"values":[{}]},"mark":{"type":"rect","filled":false,"color":"#8a8a8a","strokeWidth":3},"encoding":{"x":{"datum":1.104,"scale":{"domain":[1.104,5.39],"range":[68.3,368.3],"nice":false,"zero":false}},"x2":{"datum":5.39},"y":{"datum":0,"scale":{"domain":[0,105.6],"range":[237.3,16.3],"nice":false}},"y2":{"datum":105.6}}},
    {"data":{"name":"minor_ticks"},"mark":{"type":"rule","color":"#555555","strokeWidth":1},"encoding":{"x":{"field":"log_fl","type":"quantitative","scale":{"domain":[1.104,5.39],"range":[68.3,368.3],"nice":false,"zero":false}},"y":{"datum":0,"scale":{"domain":[0,105.6],"range":[237.3,16.3],"nice":false}},"y2":{"datum":-1.9}}},
    {"data":{"name":"hla_fbs_isotype"},"mark":{"type":"area","color":"#000000","clip":true},"encoding":{"x":{"field":"log_fl","type":"quantitative","scale":{"domain":[1.104,5.39],"range":[68.3,368.3],"nice":false,"zero":false},"axis":{"orient":"bottom","offset":-64.7,"title":"<PE-A>: Isotype","titleFontSize":15,"labelOverlap":false,"domainColor":"#8a8a8a","domainWidth":3,"values":[1.5,2,3,4,5],"labelExpr":"datum.value == 1.5 ? '0' : datum.value == 2 ? '10²' : datum.value == 3 ? '10³' : datum.value == 4 ? '10⁴' : '10⁵'"}},"y":{"field":"pct","type":"quantitative","scale":{"domain":[0,105.6],"range":[237.3,16.3],"nice":false},"axis":{"orient":"left","offset":-68.3,"title":"% of Max","labelOverlap":false,"values":[0,5,10,15,20,25,30,35,40,45,50,55,60,65,70,75,80,85,90,95,100],"labelExpr":"datum.value % 20 == 0 ? datum.label : ''","tickSize":{"condition":{"test":"datum.value % 20 == 0","value":5},"value":3}}}}},
    {"data":{"name":"hla_fbs_marker"},"mark":{"type":"line","color":"#e60000","opacity":0.85,"strokeWidth":2.4,"clip":true},"encoding":{"x":{"field":"log_fl","type":"quantitative","scale":{"domain":[1.104,5.39],"range":[68.3,368.3],"nice":false,"zero":false}},"y":{"field":"pct","type":"quantitative","scale":{"domain":[0,105.6],"range":[237.3,16.3],"nice":false}}}},
    {"data":{"name":"gates"},"transform":[{"filter":"datum.panel == 'HLA DR FBS'"}],"layer":[
     {"mark":{"type":"rule","color":"#4d4d4d","strokeWidth":2,"clip":true},"encoding":{"x":{"field":"from","type":"quantitative","scale":{"domain":[1.104,5.39],"range":[68.3,368.3],"nice":false,"zero":false}},"x2":{"field":"to"},"y":{"field":"level","type":"quantitative","scale":{"domain":[0,105.6],"range":[237.3,16.3],"nice":false}}}},
     {"mark":{"type":"tick","orient":"vertical","color":"#4d4d4d","opacity":1,"size":8,"thickness":1.5,"clip":true},"encoding":{"x":{"field":"from","type":"quantitative","scale":{"domain":[1.104,5.39],"range":[68.3,368.3],"nice":false,"zero":false}},"y":{"field":"level","type":"quantitative","scale":{"domain":[0,105.6],"range":[237.3,16.3],"nice":false}}}},
     {"mark":{"type":"tick","orient":"vertical","color":"#4d4d4d","opacity":1,"size":8,"thickness":1.5,"clip":true},"encoding":{"x":{"field":"to","type":"quantitative","scale":{"domain":[1.104,5.39],"range":[68.3,368.3],"nice":false,"zero":false}},"y":{"field":"level","type":"quantitative","scale":{"domain":[0,105.6],"range":[237.3,16.3],"nice":false}}}},
     {"mark":{"type":"text","align":"left","baseline":"middle","font":"DejaVu Sans","fontWeight":"bold","fontSize":22,"color":"#000000","clip":true},"encoding":{"text":{"field":"positive"},"x":{"datum":4.129,"scale":{"domain":[1.104,5.39],"range":[68.3,368.3],"nice":false,"zero":false}},"y":{"datum":95.2,"scale":{"domain":[0,105.6],"range":[237.3,16.3],"nice":false}}}}
    ]}
   ]},
   {"width":408,"height":302,"view":{"stroke":"#000","strokeWidth":3},"layer":[
    {"data":{"name":"gridx"},"mark":{"type":"rule","color":"#dedede","strokeWidth":1.5},"encoding":{"x":{"field":"log_fl","type":"quantitative","scale":{"domain":[1.071,5.42],"range":[78.3,382.7],"nice":false,"zero":false}},"y":{"datum":0,"scale":{"domain":[0,105],"range":[220,8.2],"nice":false}},"y2":{"datum":105}}},
    {"data":{"name":"gridy"},"mark":{"type":"rule","color":"#dedede","strokeWidth":1.5},"encoding":{"y":{"field":"pct","type":"quantitative","scale":{"domain":[0,105],"range":[220,8.2],"nice":false}},"x":{"datum":1.071,"scale":{"domain":[1.071,5.42],"range":[78.3,382.7],"nice":false,"zero":false}},"x2":{"datum":5.42}}},
    {"data":{"values":[{}]},"mark":{"type":"rect","filled":false,"color":"#8a8a8a","strokeWidth":3},"encoding":{"x":{"datum":1.071,"scale":{"domain":[1.071,5.42],"range":[78.3,382.7],"nice":false,"zero":false}},"x2":{"datum":5.42},"y":{"datum":0,"scale":{"domain":[0,105],"range":[220,8.2],"nice":false}},"y2":{"datum":105}}},
    {"data":{"name":"minor_ticks"},"mark":{"type":"rule","color":"#555555","strokeWidth":1},"encoding":{"x":{"field":"log_fl","type":"quantitative","scale":{"domain":[1.071,5.42],"range":[78.3,382.7],"nice":false,"zero":false}},"y":{"datum":0,"scale":{"domain":[0,105],"range":[220,8.2],"nice":false}},"y2":{"datum":-1.9}}},
    {"data":{"name":"hla_lhpl_isotype"},"mark":{"type":"area","color":"#000000","clip":true},"encoding":{"x":{"field":"log_fl","type":"quantitative","scale":{"domain":[1.071,5.42],"range":[78.3,382.7],"nice":false,"zero":false},"axis":{"orient":"bottom","offset":-82,"title":"<PE-A>: Isotype","titleFontSize":15,"labelOverlap":false,"domainColor":"#8a8a8a","domainWidth":3,"values":[1.5,2,3,4,5],"labelExpr":"datum.value == 1.5 ? '0' : datum.value == 2 ? '10²' : datum.value == 3 ? '10³' : datum.value == 4 ? '10⁴' : '10⁵'"}},"y":{"field":"pct","type":"quantitative","scale":{"domain":[0,105],"range":[220,8.2],"nice":false},"axis":{"orient":"left","offset":-78.3,"title":"% of Max","labelOverlap":false,"values":[0,5,10,15,20,25,30,35,40,45,50,55,60,65,70,75,80,85,90,95,100],"labelExpr":"datum.value % 20 == 0 ? datum.label : ''","tickSize":{"condition":{"test":"datum.value % 20 == 0","value":5},"value":3}}}}},
    {"data":{"name":"hla_lhpl_marker"},"mark":{"type":"line","color":"#e60000","opacity":0.85,"strokeWidth":2.4,"clip":true},"encoding":{"x":{"field":"log_fl","type":"quantitative","scale":{"domain":[1.071,5.42],"range":[78.3,382.7],"nice":false,"zero":false}},"y":{"field":"pct","type":"quantitative","scale":{"domain":[0,105],"range":[220,8.2],"nice":false}}}},
    {"data":{"name":"gates"},"transform":[{"filter":"datum.panel == 'HLA DR LHPL'"}],"layer":[
     {"mark":{"type":"rule","color":"#222222","strokeWidth":2,"clip":true},"encoding":{"x":{"field":"from","type":"quantitative","scale":{"domain":[1.071,5.42],"range":[78.3,382.7],"nice":false,"zero":false}},"x2":{"field":"to"},"y":{"field":"level","type":"quantitative","scale":{"domain":[0,105],"range":[220,8.2],"nice":false}}}},
     {"mark":{"type":"tick","orient":"vertical","color":"#222222","opacity":1,"size":8,"thickness":1.5,"clip":true},"encoding":{"x":{"field":"from","type":"quantitative","scale":{"domain":[1.071,5.42],"range":[78.3,382.7],"nice":false,"zero":false}},"y":{"field":"level","type":"quantitative","scale":{"domain":[0,105],"range":[220,8.2],"nice":false}}}},
     {"mark":{"type":"tick","orient":"vertical","color":"#222222","opacity":1,"size":8,"thickness":1.5,"clip":true},"encoding":{"x":{"field":"to","type":"quantitative","scale":{"domain":[1.071,5.42],"range":[78.3,382.7],"nice":false,"zero":false}},"y":{"field":"level","type":"quantitative","scale":{"domain":[0,105],"range":[220,8.2],"nice":false}}}},
     {"mark":{"type":"text","align":"left","baseline":"middle","font":"DejaVu Sans","fontWeight":"bold","fontSize":22,"color":"#000000","clip":true},"encoding":{"text":{"field":"positive"},"x":{"datum":4.134,"scale":{"domain":[1.071,5.42],"range":[78.3,382.7],"nice":false,"zero":false}},"y":{"datum":94.2,"scale":{"domain":[0,105],"range":[220,8.2],"nice":false}}}}
    ]}
   ]}
  ]}
 ]}
]
}
